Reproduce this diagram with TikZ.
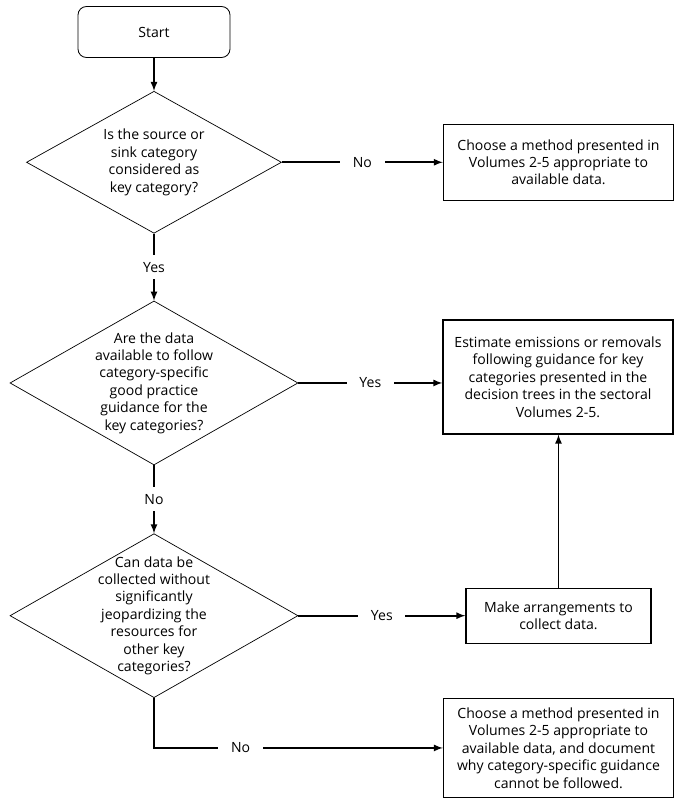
\documentclass[tikz,border=0pt]{standalone}
\usepackage{fontspec}
\setmainfont{Open Sans}
\usetikzlibrary{shapes,arrows,positioning}

\begin{document}
\begin{tikzpicture}[
            font=\fontsize{10}{12.4}\selectfont,
            terminal/.style={rectangle, rounded corners=6pt, draw, line width=0.6pt, minimum width=3.8cm, minimum height=1.275cm},
            decision/.style={diamond, draw, line width=0.5pt, align=center, inner sep=-16pt, minimum width=7.2cm, minimum height=4.1cm},
            action/.style={rectangle, draw, line width=0.9pt, align=center, minimum width=5.75cm},
            arrow/.style={-latex, line width=1.2pt},
            answer/.style={fill=white, inner xsep=9pt, inner ysep=5pt}
        ]
            \useasboundingbox (-3.85,0.8) rectangle (13.15,-19.2);

            % Main column
            \node[terminal] (start) {Start};
            \node[decision, below=0.825cm of start, minimum width=6.375cm, minimum height=3.55cm] (keycat) {Is the source or\\sink category\\considered as\\key category?};
            \node[decision, below=1.675cm of keycat] (dataavail) {Are the data\\available to follow\\category-specific\\good practice\\guidance for the\\key categories?};
            \node[decision, below=1.7cm of dataavail] (collect) {Can data be\\collected without\\significantly\\jeopardizing the\\resources for\\other key\\categories?};

            % Outcomes
            \node[action, right=4.025cm of keycat, minimum height=1.9cm] (choose) {Choose a method presented in\\Volumes 2-5 appropriate to\\available data.};
            \node[action, right=3.6cm of dataavail, yshift=0.15cm, minimum height=2.85cm] (estimate) {Estimate emissions or removals\\following guidance for key\\categories presented in the\\decision trees in the sectoral\\Volumes 2-5.};
            \node[action, right=4.175cm of collect, minimum width=4.625cm, minimum height=1.375cm] (arrange) {Make arrangements to\\collect data.};
            \node[action, below=1.35cm of arrange, minimum height=2.475cm] (document) {Choose a method presented in\\Volumes 2-5 appropriate to\\available data, and document\\why category-specific guidance\\cannot be followed.};

            % Arrows
            \draw[arrow] (start) -- (keycat);
            \draw[arrow] (keycat) -- node[answer] (yes1) {Yes} (dataavail);
            \draw[arrow] (keycat) -- node[answer] (no1) {No} (choose);
            \draw[arrow] (dataavail.east) -- node[answer] (yes2) {Yes} (dataavail.east -| estimate.west);
            \draw[arrow] (dataavail) -- node[answer] (no2) {No} (collect);
            \draw[arrow] (collect) -- node[answer] (yes3) {Yes} (arrange);
            \draw[arrow] (collect.south) |- node[answer, pos=0.65] (no3) {No} (document.west);
            \draw[arrow] (arrange.north) -- (arrange.north |- estimate.south);
        \end{tikzpicture}
\end{document}
